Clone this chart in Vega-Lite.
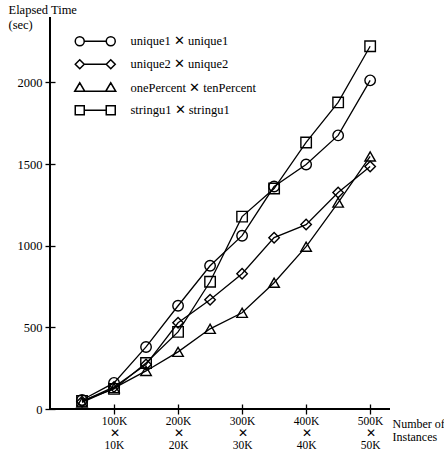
{
  "$schema": "https://vega.github.io/schema/vega-lite/v6.json",
  "width": 340,
  "height": 392,
  "autosize": "none",
  "padding": {"left": 50, "top": 17, "right": 54, "bottom": 43},
  "background": "white",
  "config": {
    "view": {"stroke": null},
    "font": "Liberation Serif",
    "axis": {"labelFont": "Liberation Serif", "titleFont": "Liberation Serif", "labelColor": "black", "titleColor": "black", "tickColor": "black", "tickWidth": 1.3, "labelFontSize": 12.5, "titleFontSize": 12.5, "titleFontWeight": "normal", "grid": false},
    "legend": {"labelFont": "Liberation Serif"}
  },
  "data": {
    "values": [
      {"series": "unique1 ✕ unique1", "n": 50000, "t": 55},
      {"series": "unique1 ✕ unique1", "n": 100000, "t": 160},
      {"series": "unique1 ✕ unique1", "n": 150000, "t": 380},
      {"series": "unique1 ✕ unique1", "n": 200000, "t": 632},
      {"series": "unique1 ✕ unique1", "n": 250000, "t": 877},
      {"series": "unique1 ✕ unique1", "n": 300000, "t": 1061},
      {"series": "unique1 ✕ unique1", "n": 350000, "t": 1362},
      {"series": "unique1 ✕ unique1", "n": 400000, "t": 1497},
      {"series": "unique1 ✕ unique1", "n": 450000, "t": 1675},
      {"series": "unique1 ✕ unique1", "n": 500000, "t": 2012},
      {"series": "unique2 ✕ unique2", "n": 50000, "t": 45},
      {"series": "unique2 ✕ unique2", "n": 100000, "t": 135},
      {"series": "unique2 ✕ unique2", "n": 150000, "t": 272},
      {"series": "unique2 ✕ unique2", "n": 200000, "t": 528},
      {"series": "unique2 ✕ unique2", "n": 250000, "t": 669},
      {"series": "unique2 ✕ unique2", "n": 300000, "t": 828},
      {"series": "unique2 ✕ unique2", "n": 350000, "t": 1049},
      {"series": "unique2 ✕ unique2", "n": 400000, "t": 1129},
      {"series": "unique2 ✕ unique2", "n": 450000, "t": 1325},
      {"series": "unique2 ✕ unique2", "n": 500000, "t": 1485},
      {"series": "onePercent ✕ tenPercent", "n": 50000, "t": 40},
      {"series": "onePercent ✕ tenPercent", "n": 100000, "t": 128},
      {"series": "onePercent ✕ tenPercent", "n": 150000, "t": 233},
      {"series": "onePercent ✕ tenPercent", "n": 200000, "t": 350},
      {"series": "onePercent ✕ tenPercent", "n": 250000, "t": 491},
      {"series": "onePercent ✕ tenPercent", "n": 300000, "t": 589},
      {"series": "onePercent ✕ tenPercent", "n": 350000, "t": 773},
      {"series": "onePercent ✕ tenPercent", "n": 400000, "t": 994},
      {"series": "onePercent ✕ tenPercent", "n": 450000, "t": 1264},
      {"series": "onePercent ✕ tenPercent", "n": 500000, "t": 1546},
      {"series": "stringu1 ✕ stringu1", "n": 50000, "t": 50},
      {"series": "stringu1 ✕ stringu1", "n": 100000, "t": 123},
      {"series": "stringu1 ✕ stringu1", "n": 150000, "t": 282},
      {"series": "stringu1 ✕ stringu1", "n": 200000, "t": 472},
      {"series": "stringu1 ✕ stringu1", "n": 250000, "t": 779},
      {"series": "stringu1 ✕ stringu1", "n": 300000, "t": 1178},
      {"series": "stringu1 ✕ stringu1", "n": 350000, "t": 1350},
      {"series": "stringu1 ✕ stringu1", "n": 400000, "t": 1632},
      {"series": "stringu1 ✕ stringu1", "n": 450000, "t": 1877},
      {"series": "stringu1 ✕ stringu1", "n": 500000, "t": 2221}
    ]
  },
  "encoding": {
    "x": {"field": "n", "type": "quantitative", "scale": {"domain": [0, 531000], "nice": false, "zero": true},
      "axis": {"values": [100000, 200000, 300000, 400000, 500000], "offset": -5, "tickSize": 10, "domain": false, "labelPadding": 1, "labelBaseline": "top", "labelLineHeight": 12, "labelFontSize": 11.5,
        "labelExpr": "[format(datum.value/1000,'d')+'K', '✕', format(datum.value/10000,'d')+'K']",
        "title": ["Number of", "Instances"], "titleFontSize": 12, "titleLineHeight": 13, "titleAnchor": "start", "titleAlign": "left", "titleBaseline": "top", "titleX": 342, "titleY": 14}},
    "y": {"field": "t", "type": "quantitative", "scale": {"domain": [0, 2400], "nice": false},
      "axis": {"values": [0, 500, 1000, 1500, 2000], "format": "d", "offset": -5, "tickSize": 10, "domain": false, "labelPadding": 3,
        "title": ["Elapsed Time", "(sec)"], "titleAngle": 0, "titleAlign": "left", "titleBaseline": "top", "titleLineHeight": 15, "titleX": -47, "titleY": -14}}
  },
  "layer": [
    {"mark": {"type": "rule", "color": "black", "strokeWidth": 1.5}, "encoding": {"x": {"datum": 0}, "y": null}},
    {"mark": {"type": "rule", "color": "black", "strokeWidth": 1.5}, "encoding": {"y": {"datum": 0}, "x": null}},
    {"mark": {"type": "line", "color": "black", "strokeWidth": 1.3}, "encoding": {"detail": {"field": "series"}}},
    {"mark": {"type": "point", "filled": false, "stroke": "black", "strokeWidth": 1.4, "opacity": 1},
      "encoding": {
        "size": {"value": 110},
        "shape": {"field": "series", "type": "nominal",
          "scale": {"domain": ["unique1 ✕ unique1", "unique2 ✕ unique2", "onePercent ✕ tenPercent", "stringu1 ✕ stringu1"], "range": ["circle", "diamond", "triangle-up", "square"]},
          "legend": null}
      }
    },
    {"transform": [{"filter": "datum.t < 0"}],
      "mark": {"type": "point", "filled": false, "stroke": "black", "strokeWidth": 1.4, "opacity": 1},
      "encoding": {
        "shape": {"field": "series", "type": "nominal",
          "scale": {"domain": ["unique1 ✕ unique1", "unique2 ✕ unique2", "onePercent ✕ tenPercent", "stringu1 ✕ stringu1"],
            "range": ["M-4,0A0.9,0.9 0 1,1 -2.2,0A0.9,0.9 0 1,1 -4,0Z M-2.2,0L2.2,0 M2.2,0A0.9,0.9 0 1,1 4,0A0.9,0.9 0 1,1 2.2,0Z", "M-4,0L-3.1,-0.9L-2.2,0L-3.1,0.9Z M-2.2,0L2.2,0 M2.2,0L3.1,-0.9L4,0L3.1,0.9Z", "M-4.1,0.6L-3.1,-1.1L-2.1,0.6Z M-2.1,0.6L2.1,0.6 M2.1,0.6L3.1,-1.1L4.1,0.6Z", "M-4,-0.9H-2.2V0.9H-4Z M-2.2,0H2.2 M2.2,-0.9H4V0.9H2.2Z"]},
          "legend": {"title": null, "orient": "none", "legendX": 39, "legendY": 18, "padding": 0, "symbolSize": 100, "symbolStrokeWidth": 1.5, "symbolStrokeColor": "black", "symbolFillColor": "transparent", "labelOffset": 29, "labelFontSize": 12.5, "labelColor": "black", "rowPadding": 7, "labelLimit": 300}}
      }
    }
  ],
  "resolve": {"scale": {"shape": "independent"}}
}
